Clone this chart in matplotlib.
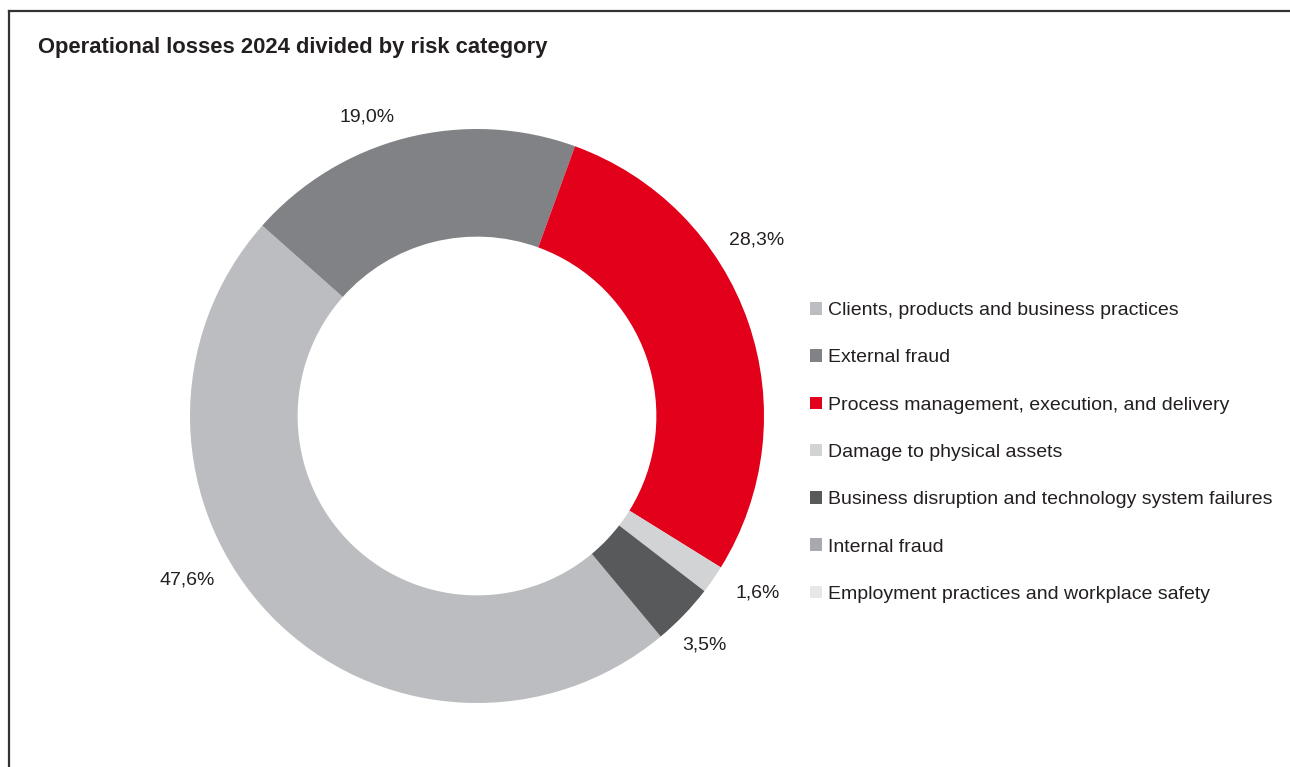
import matplotlib.pyplot as plt
from matplotlib.patches import Patch
from matplotlib.lines import Line2D
import numpy as np

plt.rcParams['font.family'] = ['Liberation Sans Narrow', 'Liberation Sans', 'DejaVu Sans']

# data
categories = ['Clients, products and business practices',
              'External fraud',
              'Process management, execution, and delivery',
              'Damage to physical assets',
              'Business disruption and technology system failures',
              'Internal fraud',
              'Employment practices and workplace safety']
shares = [47.6, 19.0, 28.3, 1.6, 3.5, 0.0, 0.0]
share_labels = ['47,6%', '19,0%', '28,3%', '1,6%', '3,5%', '', '']
colors = ['#bcbdc0', '#808285', '#e2001a', '#d1d3d4', '#58595b', '#a7a9ac', '#e6e7e8']

W, H = 1290, 767
fig = plt.figure(figsize=(W / 100, H / 100), dpi=100)
ax = fig.add_axes([0, 0, 1, 1])
ax.set_xlim(0, W)
ax.set_ylim(0, H)
ax.axis('off')

cx, cy, r = 477, H - 416, 287
wedges, _ = ax.pie(shares, colors=colors, center=(cx, cy), radius=r,
                   startangle=-50.2, counterclock=False,
                   wedgeprops=dict(width=r * 0.375, linewidth=0))
ax.set_xlim(0, W)
ax.set_ylim(0, H)
ax.set_aspect('equal')

# label placement (angle in degrees clockwise from top, radius factor)
label_pos = [(240.5, 1.16), (339.8, 1.11), (57.8, 1.15), (122.3, 1.155), (135.3, 1.125), None, None]
for lab, pos in zip(share_labels, label_pos):
    if not lab:
        continue
    a, f = pos
    t = np.deg2rad(a)
    ax.text(cx + f * r * np.sin(t), cy + f * r * np.cos(t), lab,
            ha='center', va='center', fontsize=14, color='#231f20')

handles = [Patch(facecolor=c, edgecolor='none') for c in colors]
ax.legend(handles, categories, loc='upper left', bbox_to_anchor=(810 / W, 1 - 302 / H),
          frameon=False, fontsize=14, handlelength=0.62, handleheight=0.62,
          handletextpad=0.28, labelspacing=1.55, borderaxespad=0, borderpad=0,
          labelcolor='#231f20')

fig.text(38 / W, 1 - 47 / H, 'Operational losses 2024 divided by risk category',
         fontsize=15.8, fontweight='bold', color='#231f20', va='center', ha='left')

# frame
fig.add_artist(Line2D([8.5 / W, 1], [1 - 10.5 / H, 1 - 10.5 / H], color='#333333', lw=1.6))
fig.add_artist(Line2D([8.5 / W, 8.5 / W], [0, 1 - 10.5 / H], color='#333333', lw=1.6))

fig.savefig('out.png', dpi=100, facecolor='white')
